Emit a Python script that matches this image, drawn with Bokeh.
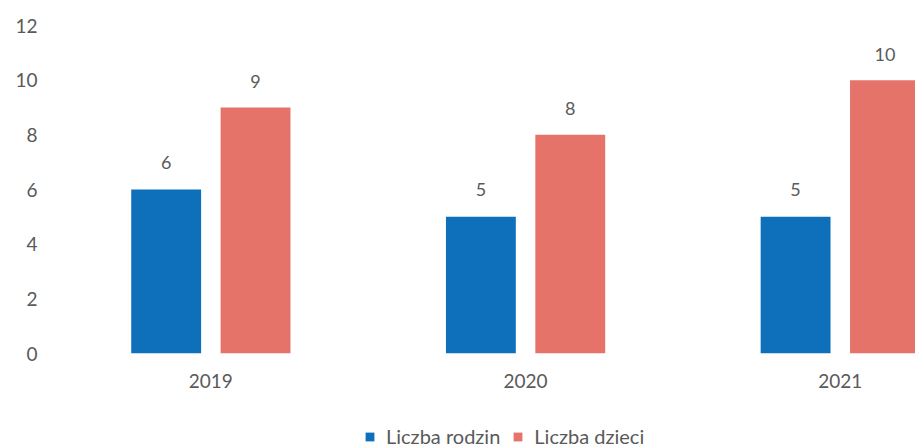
from bokeh.plotting import figure
from bokeh.models import (ColumnDataSource, Range1d, FixedTicker, Legend, LegendItem)
from bokeh.layouts import column
from bokeh.transform import dodge
from bokeh.core.properties import value
from bokeh.embed import file_html
from bokeh.resources import INLINE

years = ["2019", "2020", "2021"]
liczba_rodzin = [6, 5, 5]
liczba_dzieci = [9, 8, 10]
y_ticks = [0, 2, 4, 6, 8, 10, 12]

BLUE = "#0E6FBB"
RED = "#E5736A"
TXT = "#5A5A5A"
FONT = "Lato"

pos = [i + 0.5 for i in range(len(years))]
src = ColumnDataSource(dict(
    x=pos, years=years, rod=liczba_rodzin, dz=liczba_dzieci,
    rod_t=[str(v) for v in liczba_rodzin], dz_t=[str(v) for v in liczba_dzieci],
))

p = figure(frame_width=862, frame_height=328, output_backend="svg", toolbar_location=None,
           x_range=Range1d(0, 2.739), y_range=Range1d(0, 12),
           min_border_left=53, min_border_right=0, min_border_top=25, min_border_bottom=50)
p.outline_line_color = None
p.grid.grid_line_color = None
p.background_fill_color = "white"
p.border_fill_color = "white"

off = 0.142
w = 0.222
r1 = p.vbar(x=dodge("x", -off, range=p.x_range), top="rod", width=w, bottom=0,
            source=src, fill_color=BLUE, line_color=None)
r2 = p.vbar(x=dodge("x", off, range=p.x_range), top="dz", width=w, bottom=0,
            source=src, fill_color=RED, line_color=None)

p.text(x=dodge("x", -off, range=p.x_range), y="rod", text="rod_t", source=src,
       text_align="center", text_baseline="middle", y_offset=-27,
       text_font=value(FONT), text_font_size="18px", text_color=TXT)
p.text(x=dodge("x", off, range=p.x_range), y="dz", text="dz_t", source=src,
       text_align="center", text_baseline="middle", y_offset=-26,
       text_font=value(FONT), text_font_size="18px", text_color=TXT)

p.xaxis.ticker = FixedTicker(ticks=pos)
p.xaxis.major_label_overrides = {pv: y for pv, y in zip(pos, years)}
p.yaxis.ticker = FixedTicker(ticks=y_ticks)
for ax in (p.xaxis, p.yaxis):
    ax.axis_line_color = None
    ax.major_tick_line_color = None
    ax.minor_tick_line_color = None
    ax.major_tick_out = 0
    ax.major_tick_in = 0
    ax.major_label_text_font = FONT
    ax.major_label_text_font_size = "19px"
    ax.major_label_text_color = TXT
p.yaxis.major_label_standoff = 16
p.xaxis.major_label_standoff = 20

# legend strip below the chart (same series, same colours; bars kept out of view)
pl = figure(width=915, height=45, output_backend="svg", toolbar_location=None,
            x_range=Range1d(100, 101), y_range=Range1d(100, 101),
            min_border=0, x_axis_type=None, y_axis_type=None)
pl.outline_line_color = None
pl.grid.grid_line_color = None
pl.border_fill_color = "white"
pl.background_fill_color = "white"
l1 = pl.vbar(x="x", top="rod", width=w, bottom=0, source=src,
             fill_color=BLUE, line_color=None)
l2 = pl.vbar(x="x", top="dz", width=w, bottom=0, source=src,
             fill_color=RED, line_color=None)

legend = Legend(items=[LegendItem(label="Liczba rodzin", renderers=[l1]),
                       LegendItem(label="Liczba dzieci", renderers=[l2])],
                orientation="horizontal", location=(311, 0),
                glyph_width=11, glyph_height=11, spacing=12, label_standoff=11,
                label_height=18,
                label_text_font=FONT, label_text_font_size="20px", label_text_color=TXT,
                border_line_color=None, background_fill_alpha=0,
                margin=0, padding=0)
pl.add_layout(legend, "center")

open("out.html", "w").write(file_html(column(p, pl, spacing=0), INLINE))
